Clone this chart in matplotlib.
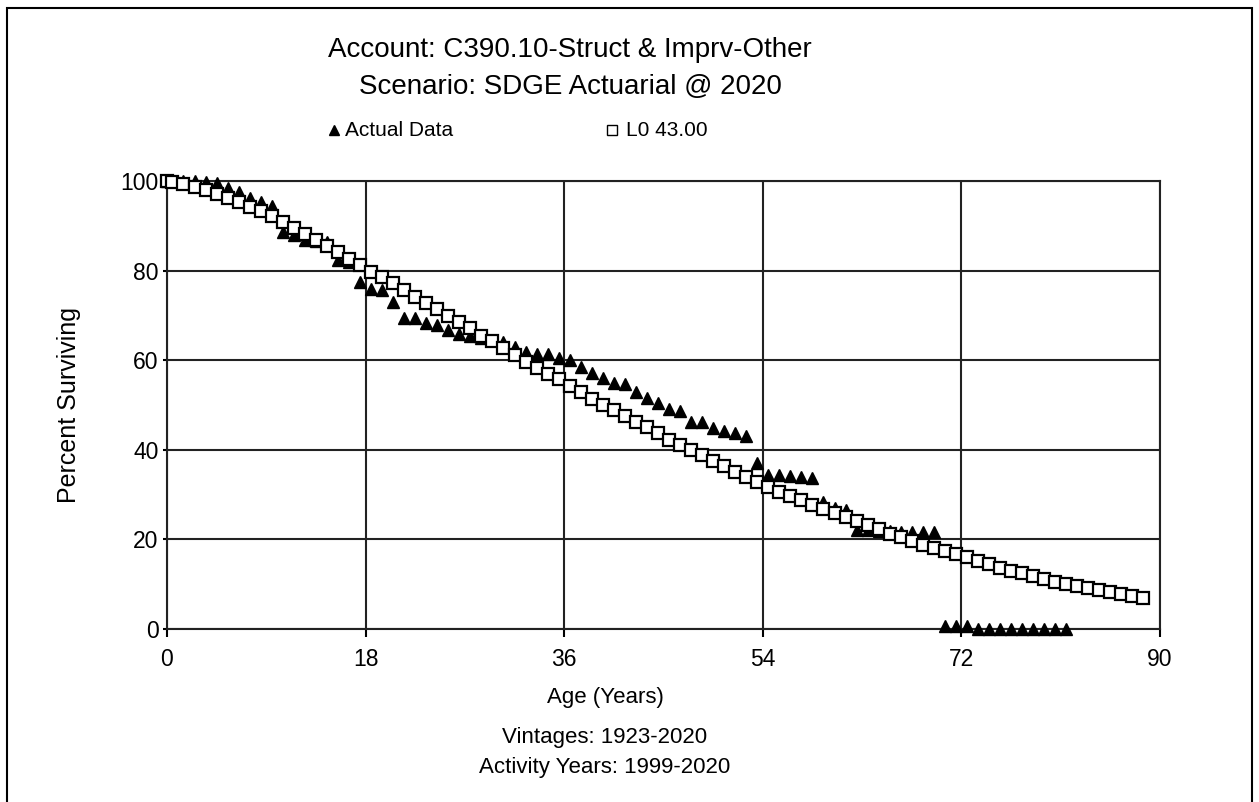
import matplotlib
matplotlib.use("Agg")
import matplotlib.pyplot as plt
from matplotlib.patches import Rectangle

plt.rcParams['font.family'] = ['Liberation Sans', 'DejaVu Sans']

# ages where points are plotted (0, then half-year midpoints)
ages_curve = [0] + [i + 0.5 for i in range(89)]
l0_curve = [100.0, 99.8, 99.3, 98.7, 98.0, 97.2, 96.3, 95.4, 94.3, 93.3,
            92.1, 90.8, 89.5, 88.2, 86.9, 85.6, 84.2, 82.7, 81.2, 79.8,
            78.6, 77.2, 75.7, 74.1, 72.7, 71.4, 69.8, 68.5, 67.1, 65.4,
            64.2, 62.8, 61.2, 59.6, 58.3, 57.0, 55.7, 54.2, 52.8, 51.4,
            50.1, 48.9, 47.6, 46.3, 45.0, 43.7, 42.3, 41.1, 40.0, 38.8,
            37.5, 36.3, 35.1, 34.0, 32.9, 31.7, 30.6, 29.6, 28.7, 27.7,
            26.8, 25.9, 25.0, 24.1, 23.2, 22.3, 21.3, 20.5, 19.6, 18.8,
            18.0, 17.4, 16.7, 16.0, 15.2, 14.5, 13.7, 13.0, 12.4, 11.8,
            11.2, 10.6, 10.1, 9.6, 9.1, 8.6, 8.2, 7.8, 7.4, 7.0]

ages_actual = [0] + [i + 0.5 for i in range(82)]
actual = [100.0, 100.0, 100.0, 100.0, 99.8, 99.5, 98.4, 97.6, 96.2, 95.4,
          94.4, 88.7, 88.0, 86.8, 86.6, 86.4, 82.4, 82.0, 77.5, 76.0,
          75.7, 73.0, 69.4, 69.4, 68.3, 67.8, 66.8, 65.8, 65.3, 65.0,
          64.5, 64.1, 63.0, 61.9, 61.4, 61.4, 60.4, 60.0, 58.4, 57.2,
          56.1, 55.0, 54.6, 53.0, 51.6, 50.5, 49.1, 48.6, 46.2, 46.1,
          44.8, 44.2, 43.8, 43.1, 37.0, 34.3, 34.3, 34.2, 34.0, 33.6,
          28.4, 27.0, 26.6, 22.0, 22.0, 21.9, 21.8, 21.7, 21.7, 21.7,
          21.7, 0.6, 0.6, 0.6, 0.1, 0.1, 0.1, 0.1, 0.1, 0.1,
          0.1, 0.1, 0.1]

x_ticks = [0, 18, 36, 54, 72, 90]
y_ticks = [0, 20, 40, 60, 80, 100]

fig = plt.figure(figsize=(12.59, 8.02), dpi=100)
ax = fig.add_axes([0.1326, 0.2157, 0.7888, 0.5586])

ax.plot(ages_actual, actual, linestyle='none', marker='^', color='black',
        markersize=8.5, clip_on=False, zorder=3)
ax.plot(ages_curve, l0_curve, linestyle='none', marker='s', markerfacecolor='white',
        markeredgecolor='black', markeredgewidth=1.6, markersize=9, clip_on=False, zorder=4)

ax.set_xlim(0, 90)
ax.set_ylim(0, 100)
ax.set_xticks(x_ticks)
ax.set_yticks(y_ticks)
ax.grid(True, color='#222222', linewidth=1.5)
ax.set_axisbelow(True)
for s in ax.spines.values():
    s.set_linewidth(1.5)
    s.set_color('#222222')
ax.tick_params(labelsize=16.5, length=6, width=1.5)
ax.tick_params(axis='x', pad=8)
ax.tick_params(axis='y', length=3, pad=3)

ax.set_ylabel('Percent Surviving', fontsize=18)
ax.yaxis.set_label_coords(-0.087, 0.5)

fig.text(0.4527, 0.938, 'Account: C390.10-Struct & Imprv-Other', ha='center', va='center', fontsize=20)
fig.text(0.4527, 0.892, 'Scenario: SDGE Actuarial @ 2020', ha='center', va='center', fontsize=20)

# legend row
fig.lines.append(plt.Line2D([334 / 1259], [1 - 130 / 802], transform=fig.transFigure,
                            marker='^', color='black', markersize=7.5, linestyle='none'))
fig.text(345 / 1259, 1 - 130 / 802, 'Actual Data', ha='left', va='center', fontsize=15)
fig.lines.append(plt.Line2D([612 / 1259], [1 - 130 / 802], transform=fig.transFigure,
                            marker='s', markerfacecolor='white', markeredgecolor='black',
                            markersize=7, linestyle='none'))
fig.text(626 / 1259, 1 - 130 / 802, 'L0 43.00', ha='left', va='center', fontsize=15)

fig.text(605 / 1259, 1 - 698 / 802, 'Age (Years)', ha='center', va='center', fontsize=16)
fig.text(605 / 1259, 1 - 738 / 802, 'Vintages: 1923-2020', ha='center', va='center', fontsize=16)
fig.text(605 / 1259, 1 - 768 / 802, 'Activity Years: 1999-2020', ha='center', va='center', fontsize=16)

fig.patches.append(Rectangle((7 / 1259, -0.05), 1245 / 1259, 1.05 - 8 / 802,
                             transform=fig.transFigure, fill=False,
                             edgecolor='black', linewidth=1.5))

fig.savefig('out.png', dpi=100)
